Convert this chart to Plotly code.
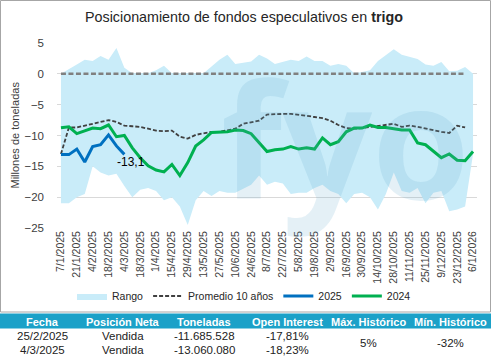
import plotly.graph_objects as go
import pandas as pd

# ---- data ----
dates = pd.date_range("2025-01-07", periods=53, freq="7D")
tick_dates = dates[::2]
tick_labels = [f"{d.day}/{d.month}/{d.year}" for d in tick_dates]

rango_max = [0.0, 0.7, 1.5, 2.3, 2.1, 2.9, 2.3, 4.2, 1.0, 0.1, 0.1, 0.1, 0.6, 1.3, 0.1, 0.1,
             0.1, 0.1, 0.1, 1.2, 2.3, 3.1, 1.6, 1.8, 2.0, 3.1, 2.5, 1.6, 2.0, 2.3, 2.1, 2.8,
             2.1, 2.1, 1.3, 1.6, 1.3, 0.1, 0.3, 0.6, 2.1, 3.1, 4.0, 3.1, 2.8, 2.4, 1.5, 1.3,
             1.9, 0.4, 0.5, 1.1, 0.0]
rango_min = [-21.0, -21.0, -20.0, -19.5, -15.0, -16.0, -16.5, -16.2, -18.2, -20.0, -18.8, -18.5,
             -19.0, -20.5, -20.0, -21.5, -24.5, -20.5, -19.0, -19.8, -19.0, -19.3, -19.3, -18.6,
             -18.0, -16.5, -18.0, -17.5, -17.8, -19.5, -19.3, -19.3, -18.5, -18.0, -19.0, -19.5,
             -21.0, -19.5, -19.3, -20.0, -22.0, -19.5, -16.0, -19.0, -19.3, -18.5, -21.0, -19.3,
             -19.0, -22.3, -22.0, -21.5, -13.0]
promedio = [-13.0, -8.7, -8.7, -8.4, -8.0, -7.7, -7.5, -7.8, -8.4, -8.5, -8.6, -8.9, -9.2, -9.3,
            -9.2, -10.2, -10.5, -9.9, -9.6, -9.4, -9.4, -9.2, -8.9, -8.1, -7.8, -7.6, -6.6, -6.5,
            -6.5, -6.5, -6.6, -6.8, -7.0, -7.2, -7.6, -8.3, -8.8, -8.9, -8.8, -8.6, -8.4, -8.3,
            -8.1, -8.6, -8.4, -8.6, -8.9, -9.2, -9.4, -9.6, -8.4, -8.7]
serie_2025 = [-13.1, -13.1, -12.2, -14.3, -11.8, -11.5, -9.9, -11.69, -13.06]
serie_2024 = [-8.75, -8.6, -9.7, -9.2, -8.8, -8.9, -8.3, -10.2, -10.0, -12.0, -13.6, -14.9, -15.6,
              -15.9, -14.7, -16.5, -14.4, -11.7, -10.7, -9.5, -9.4, -9.4, -9.1, -9.2, -9.7, -11.1,
              -12.6, -12.3, -12.2, -11.8, -12.2, -12.0, -12.2, -10.4, -11.5, -11.0, -9.4, -8.8,
              -8.8, -8.3, -8.7, -8.7, -8.9, -9.1, -9.1, -11.2, -11.5, -12.5, -13.6, -13.0, -14.0,
              -14.1, -12.6]
referencia_cero = [0.0] * 52

tabla_cols = ["Fecha", "Posición Neta", "Toneladas", "Open Interest", "Máx. Histórico", "Mín. Histórico"]
tabla_fila1 = ["25/2/2025", "Vendida", "-11.685.528", "-17,81%"]
tabla_fila2 = ["4/3/2025", "Vendida", "-13.060.080", "-18,23%"]
max_hist = "5%"
min_hist = "-32%"

# ---- layout geometry (pixels) ----
W, H = 491, 358
L, R, T, B = 57, 14, 43, 130
PW, PH = W - L - R, H - T - B


def px(xp):
    return (xp - L) / PW


def py(yp):
    return (H - B - yp) / PH


FONT = "Liberation Sans"


def txt(text, xp, yp, size, color, **kw):
    return dict(text=text, x=px(xp), y=py(yp), xref="paper", yref="paper",
                xanchor="center", yanchor="middle", showarrow=False,
                font=dict(family=FONT, size=size, color=color), **kw)


fig = go.Figure()
fig.add_trace(go.Scatter(x=dates, y=rango_min, mode="lines", line=dict(width=0),
                         showlegend=False, hoverinfo="skip"))
fig.add_trace(go.Scatter(x=dates, y=rango_max, mode="lines", line=dict(width=0, color="#c9ecf9"),
                         fill="tonexty", fillcolor="#c9ecf9", name="Rango", legendrank=1))
fig.add_trace(go.Scatter(x=dates[:52], y=referencia_cero, mode="lines",
                         line=dict(color="#808080", width=2.5, dash="5px,2.5px"),
                         showlegend=False))
fig.add_trace(go.Scatter(x=dates[:52], y=promedio, mode="lines",
                         line=dict(color="#404040", width=1.8, dash="4px,2px"),
                         name="Promedio 10 años", legendrank=2))
fig.add_trace(go.Scatter(x=dates, y=serie_2024, mode="lines",
                         line=dict(color="#00b050", width=3), name="2024", legendrank=4))
fig.add_trace(go.Scatter(x=dates[:len(serie_2025)], y=serie_2025, mode="lines",
                         line=dict(color="#0070c0", width=3), name="2025", legendrank=3))

ann = []
# watermark
ann.append(dict(text="<b>fyo</b>", x=px(345), y=py(137), xref="paper", yref="paper",
                xanchor="center", yanchor="middle", showarrow=False,
                font=dict(family="Open Sans", size=158, color="rgba(93,169,201,0.17)")))
# data label
ann.append(dict(text="-13,1", x=dates[len(serie_2025) - 1], y=serie_2025[-1], xref="x", yref="y",
                xanchor="center", yanchor="middle",
                showarrow=False, xshift=7, yshift=-8, font=dict(family=FONT, size=12, color="#000")))
# y title
ann.append(txt("Millones de toneladas", 14, 135.5, 11, "#404040", textangle=-90))
# table
col_x = [42, 123, 204, 287, 368, 450]
for cx, t in zip(col_x, tabla_cols):
    ann.append(txt(f"<b>{t}</b>", cx, 321.5, 11, "white"))
for cx, t in zip(col_x[:4], tabla_fila1):
    ann.append(txt(t, cx, 336, 11.5, "#222"))
for cx, t in zip(col_x[:4], tabla_fila2):
    ann.append(txt(t, cx, 349.5, 11.5, "#222"))
ann.append(txt(max_hist, col_x[4], 342.5, 11.5, "#222"))
ann.append(txt(min_hist, col_x[5], 342.5, 11.5, "#222"))

shapes = [
    dict(type="rect", xref="paper", yref="paper", x0=px(0.5), x1=px(490.5), y0=py(312), y1=py(0.5),
         line=dict(color="#a6a6a6", width=1), fillcolor="rgba(0,0,0,0)", layer="below"),
    dict(type="rect", xref="paper", yref="paper", x0=px(0), x1=px(491), y0=py(328.5), y1=py(313.5),
         line=dict(width=0), fillcolor="#1ba1c8", layer="below"),
]

fig.update_layout(
    width=W, height=H, margin=dict(l=L, r=R, t=T, b=B, autoexpand=False),
    paper_bgcolor="white", plot_bgcolor="white",
    font=dict(family=FONT, size=11, color="#404040"),
    title=dict(text="Posicionamiento de fondos especulativos en <b>trigo</b>", x=244 / W,
               xanchor="center", y=1 - 17 / H, yanchor="middle", yref="container",
               font=dict(family=FONT, size=14.3, color="#262626")),
    showlegend=True,
    legend=dict(orientation="h", x=px(244), xanchor="center", y=py(296), yanchor="middle",
                font=dict(family=FONT, size=10.5, color="#262626"), bgcolor="rgba(0,0,0,0)",
                traceorder="normal", itemwidth=30),
    annotations=ann, shapes=shapes,
    xaxis=dict(type="date", range=[dates[0] - pd.Timedelta(hours=84), dates[-1] + pd.Timedelta(hours=84)],
               tickvals=list(tick_dates), ticktext=tick_labels, tickangle=-90,
               tickfont=dict(family=FONT, size=10.5, color="#404040"),
               showgrid=False, zeroline=False, showline=False, ticks=""),
    yaxis=dict(range=[-25, 5], dtick=5, tickvals=[5, 0, -5, -10, -15, -20, -25],
               showgrid=True, gridcolor="#d9d9d9", gridwidth=1, zeroline=False, showline=False,
               tickfont=dict(family=FONT, size=11.5, color="#404040"), ticklabelstandoff=12),
)

fig.write_html("out.html", config={"displayModeBar": False},
               post_script="document.body.style.margin='0';document.body.style.padding='0';")
